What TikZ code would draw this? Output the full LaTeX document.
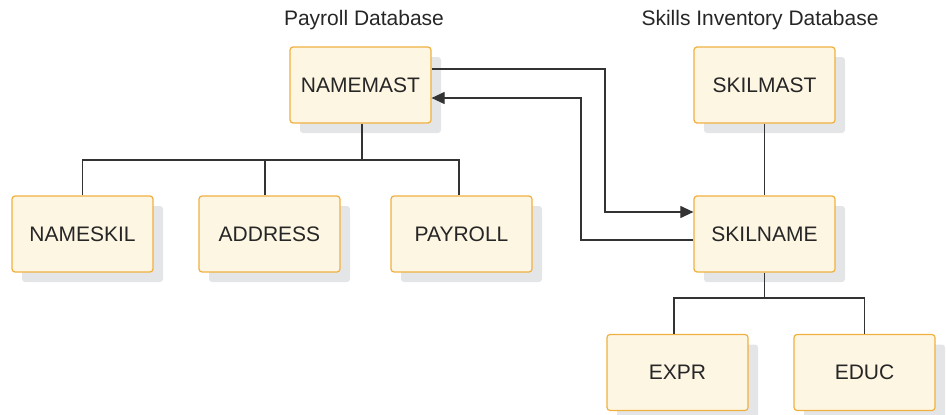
\documentclass[tikz,border=0pt]{standalone}
\usepackage{fontspec}
\setmainfont{Liberation Sans}
\usetikzlibrary{arrows.meta}
\definecolor{boxfill}{HTML}{FDF6E3}
\definecolor{boxline}{HTML}{F0B040}
\definecolor{shade}{HTML}{E4E5E7}
\definecolor{lineclr}{HTML}{333333}
\tikzset{
  seg/.style={draw=boxline, line width=1.2pt, fill=boxfill, rounded corners=3pt,
    minimum width=141pt, minimum height=76pt, inner sep=0pt, font=\fontsize{21}{24}\selectfont, text=black!85},
  shadowbox/.style={fill=shade, rounded corners=3pt, minimum width=141pt, minimum height=76pt, inner sep=0pt},
  conn/.style={draw=lineclr, line width=1.1pt},
  arr/.style={conn, -{Triangle[length=13pt,width=12pt]}},
  title/.style={font=\fontsize{21}{24}\selectfont, text=black!85}
}
\begin{document}
\begin{tikzpicture}[x=1pt,y=-1pt]
\useasboundingbox (0,0) rectangle (946,415);
% shadows
\foreach \cx/\cy in {360.5/85, 764.5/85, 82.5/234, 269.5/234, 461.5/234, 764.5/234, 677.5/372.5, 864.5/372.5}
  \node[shadowbox] at (\cx+10,\cy+10) {};
% boxes
\node[seg] (namemast) at (360.5,85) {NAMEMAST};
\node[seg] (skilmast) at (764.5,85) {SKILMAST};
\node[seg] (nameskil) at (82.5,234) {NAMESKIL};
\node[seg] (address) at (269.5,234) {ADDRESS};
\node[seg] (payroll) at (461.5,234) {PAYROLL};
\node[seg] (skilname) at (764.5,234) {SKILNAME};
\node[seg] (expr) at (677.5,372.5) {EXPR};
\node[seg] (educ) at (864.5,372.5) {EDUC};
% titles
\node[title] (t1) at (364,20) {Payroll Database};
\node[title] (t2) at (760,20) {Skills Inventory Database};
% tree
\coordinate (j1) at (362,160);
\draw[conn] (namemast.south -| j1) -- (j1);
\draw[conn] (nameskil.north) |- (j1) -| (payroll.north -| 459,0);
\draw[conn] (j1 -| 265,0) -- (address.north -| 265,0);
\draw[conn] (skilmast) -- (skilname);
\coordinate (j2) at (764.5,298);
\draw[conn] (skilname.south) -- (j2);
\draw[conn] (expr.north -| 674,0) |- (j2) -| (educ.north);
% cross links
\draw[arr] (namemast.east |- 0,69) -| (605,212) -- (skilname.west |- 0,212);
\draw[arr] (skilname.west |- 0,240) -| (581,98) -- (namemast.east |- 0,98);
\end{tikzpicture}
\end{document}
